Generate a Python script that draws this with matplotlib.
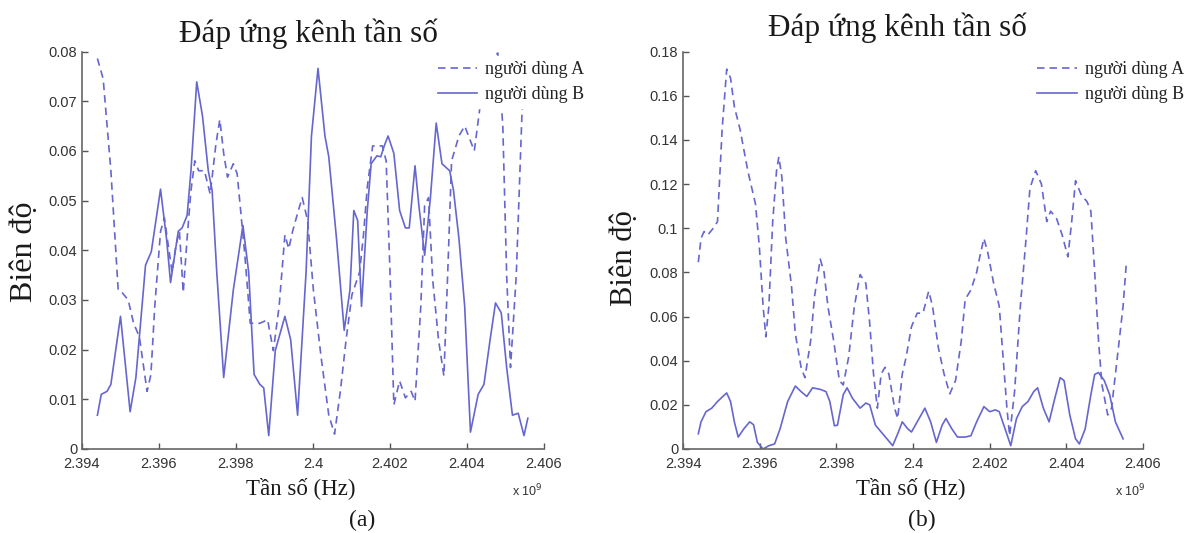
import matplotlib
matplotlib.use("Agg")
import matplotlib.pyplot as plt

# ---------------- data (frequency in units of 1e9 Hz) ----------------
freq_a_userA = [2.3944, 2.39455, 2.39475, 2.39494, 2.39504, 2.3952, 2.39534, 2.39549, 2.39569, 2.39579,
                2.39589, 2.39604, 2.39614, 2.39624, 2.39634, 2.39644, 2.39653, 2.39663, 2.39673, 2.39683,
                2.39693, 2.39703, 2.39718, 2.39733, 2.39748, 2.39758, 2.39768, 2.39778, 2.39793, 2.39803,
                2.39823, 2.39837, 2.39862, 2.39882, 2.39897, 2.39912, 2.39927, 2.39937, 2.39947, 2.39962,
                2.39972, 2.39986, 2.40001, 2.40021, 2.40041, 2.40056, 2.40071, 2.40086, 2.40101, 2.40121,
                2.40131, 2.40141, 2.40155, 2.4017, 2.4018, 2.4019, 2.402, 2.4021, 2.40225, 2.4024,
                2.40255, 2.40265, 2.4028, 2.4029, 2.403, 2.40311, 2.40326, 2.4034, 2.4035, 2.4036,
                2.40379, 2.40394, 2.40409, 2.40419, 2.40434, 2.4046, 2.4048, 2.40493, 2.40503, 2.40513,
                2.40528, 2.40543, 2.40555]
amp_a_userA = [0.0786, 0.0745, 0.056, 0.032, 0.0315, 0.030, 0.0253, 0.0226, 0.0116, 0.015,
               0.0287, 0.0438, 0.0465, 0.041, 0.0356, 0.041, 0.0438, 0.0315, 0.0424, 0.052,
               0.058, 0.056, 0.056, 0.0513, 0.0615, 0.0663, 0.0595, 0.0547, 0.0574, 0.0554,
               0.039, 0.0253, 0.0253, 0.026, 0.0198, 0.0287, 0.0431, 0.0403, 0.0438, 0.048,
               0.0506, 0.046, 0.032, 0.0185, 0.0068, 0.003, 0.0116, 0.022, 0.031, 0.0356,
               0.043, 0.0527, 0.061, 0.061, 0.061, 0.058, 0.0356, 0.0089, 0.0137, 0.0103,
               0.0116, 0.0096, 0.0287, 0.049, 0.0506, 0.034, 0.022, 0.0147, 0.0356, 0.058,
               0.063, 0.065, 0.062, 0.060, 0.069, 0.078, 0.0797, 0.065, 0.035, 0.0164,
               0.035, 0.068, 0.078]

freq_a_userB = [2.3944, 2.3945, 2.39465, 2.39475, 2.395, 2.39525, 2.3954, 2.39565, 2.3958, 2.39604,
                2.3962, 2.3963, 2.3965, 2.3966, 2.39673, 2.39683, 2.39698, 2.39713, 2.39728, 2.39738,
                2.3975, 2.39768, 2.39793, 2.39818, 2.39833, 2.39847, 2.39862, 2.39872, 2.39885, 2.39902,
                2.39927, 2.39942, 2.3996, 2.39982, 2.39996, 2.40013, 2.40031, 2.40041, 2.40061, 2.40081,
                2.40096, 2.40106, 2.40116, 2.40126, 2.40141, 2.40151, 2.40166, 2.40176, 2.40185, 2.40195,
                2.4021, 2.40225, 2.4024, 2.4025, 2.40265, 2.40275, 2.4029, 2.40305, 2.4032, 2.40335,
                2.40355, 2.40365, 2.40379, 2.40394, 2.40409, 2.40429, 2.40444, 2.4046, 2.40474, 2.40489,
                2.40503, 2.40518, 2.40533, 2.40548, 2.40558]
amp_a_userB = [0.0068, 0.011, 0.0116, 0.013, 0.0267, 0.0075, 0.0144, 0.037, 0.0397, 0.0523,
               0.042, 0.0335, 0.0438, 0.0445, 0.047, 0.056, 0.0739, 0.067, 0.056, 0.052,
               0.0356, 0.0144, 0.032, 0.045, 0.0355, 0.015, 0.013, 0.0123, 0.0027, 0.0198,
               0.0267, 0.022, 0.0068, 0.0356, 0.063, 0.0766, 0.063, 0.0588, 0.0424, 0.0239,
               0.032, 0.048, 0.046, 0.0287, 0.048, 0.0574, 0.059, 0.0588, 0.061, 0.063,
               0.0595, 0.048, 0.0445, 0.0445, 0.057, 0.049, 0.039, 0.0506, 0.0656, 0.0574,
               0.056, 0.052, 0.0424, 0.0287, 0.0034, 0.011, 0.013, 0.022, 0.0294, 0.0274,
               0.0164, 0.0068, 0.0072, 0.0027, 0.0062]

freq_b_userA = [2.3944, 2.39447, 2.39455, 2.39465, 2.39479, 2.3949, 2.39502, 2.39514, 2.39524, 2.39534,
                2.39549, 2.39569, 2.39589, 2.39599, 2.39609, 2.39616, 2.39624, 2.39634, 2.39644, 2.3965,
                2.39658, 2.39668, 2.39683, 2.39693, 2.39708, 2.39718, 2.39733, 2.39743, 2.39758, 2.39768,
                2.39778, 2.39793, 2.39808, 2.39818, 2.39832, 2.39847, 2.39862, 2.39877, 2.39887, 2.39897,
                2.39907, 2.39917, 2.39927, 2.39937, 2.39952, 2.3996, 2.39972, 2.39982, 2.39996, 2.40011,
                2.40026, 2.40041, 2.40051, 2.40066, 2.40081, 2.40096, 2.40111, 2.40126, 2.40136, 2.40151,
                2.40166, 2.40175, 2.40185, 2.40195, 2.4021, 2.40225, 2.40235, 2.40245, 2.40252, 2.40265,
                2.4028, 2.40295, 2.40305, 2.4032, 2.40335, 2.40349, 2.40359, 2.40374, 2.40389, 2.40404,
                2.40414, 2.40424, 2.40439, 2.40454, 2.40464, 2.40474, 2.40484, 2.40493, 2.40508, 2.40518,
                2.40533, 2.40548, 2.40556]
amp_b_userA = [0.0846, 0.0954, 0.0985, 0.097, 0.100, 0.103, 0.1446, 0.172, 0.168, 0.155,
               0.1446, 0.126, 0.111, 0.092, 0.0646, 0.0508, 0.0646, 0.103, 0.126, 0.1323,
               0.123, 0.0954, 0.0738, 0.0523, 0.037, 0.0323, 0.049, 0.069, 0.086, 0.080,
               0.0646, 0.049, 0.031, 0.029, 0.0415, 0.0646, 0.079, 0.075, 0.057, 0.034,
               0.0185, 0.034, 0.037, 0.034, 0.0185, 0.0138, 0.034, 0.0415, 0.0554, 0.0615,
               0.0615, 0.0715, 0.0646, 0.046, 0.034, 0.025, 0.031, 0.049, 0.0677, 0.072,
               0.080, 0.0877, 0.0954, 0.089, 0.0754, 0.0646, 0.0415, 0.0185, 0.006, 0.026,
               0.0646, 0.0954, 0.118, 0.126, 0.12, 0.103, 0.1077, 0.1046, 0.097, 0.087,
               0.103, 0.1215, 0.115, 0.112, 0.1077, 0.080, 0.049, 0.029, 0.0154, 0.0185,
               0.0415, 0.0646, 0.083]

freq_b_userB = [2.3944, 2.39447, 2.3946, 2.39475, 2.3949, 2.39504, 2.39514, 2.39524, 2.39534, 2.39544,
                2.39559, 2.39574, 2.39584, 2.39594, 2.39609, 2.39624, 2.39639, 2.39653, 2.39673, 2.39693,
                2.39708, 2.39723, 2.39738, 2.39758, 2.39773, 2.39783, 2.39795, 2.39803, 2.39818, 2.39828,
                2.39842, 2.39862, 2.39877, 2.39887, 2.39902, 2.39917, 2.39932, 2.39947, 2.39962, 2.39972,
                2.39986, 2.39996, 2.40011, 2.40031, 2.40046, 2.40061, 2.40076, 2.40086, 2.40101, 2.40116,
                2.40136, 2.40151, 2.40166, 2.40185, 2.402, 2.40215, 2.40225, 2.4024, 2.40255, 2.4027,
                2.40285, 2.403, 2.40315, 2.40325, 2.4034, 2.40355, 2.4037, 2.40384, 2.40394, 2.40409,
                2.40424, 2.40434, 2.40449, 2.40464, 2.40474, 2.40484, 2.40499, 2.40513, 2.40528, 2.40548]
amp_b_userB = [0.0069, 0.0123, 0.0169, 0.0185, 0.0215, 0.0238, 0.0254, 0.0215, 0.0123, 0.0054,
               0.0092, 0.0123, 0.011, 0.003, 0.0, 0.0015, 0.0023, 0.009, 0.0215, 0.0285,
               0.026, 0.0238, 0.0277, 0.027, 0.026, 0.0215, 0.0105, 0.0108, 0.0246, 0.0277,
               0.023, 0.0185, 0.0208, 0.020, 0.0108, 0.0077, 0.0046, 0.0015, 0.0077, 0.0123,
               0.0092, 0.0077, 0.0123, 0.0185, 0.0123, 0.003, 0.0108, 0.0138, 0.0092, 0.0054,
               0.0054, 0.006, 0.0123, 0.0192, 0.0169, 0.0177, 0.0169, 0.0092, 0.0015, 0.0138,
               0.0192, 0.0215, 0.026, 0.0277, 0.0185, 0.0123, 0.023, 0.0323, 0.031, 0.0154,
               0.0046, 0.0023, 0.009, 0.0246, 0.0338, 0.0346, 0.031, 0.0246, 0.0123, 0.0046]

x_ticks = [2.394, 2.396, 2.398, 2.4, 2.402, 2.404, 2.406]
x_tick_labels = ["2.394", "2.396", "2.398", "2.4", "2.402", "2.404", "2.406"]
y_ticks_a = [0, 0.01, 0.02, 0.03, 0.04, 0.05, 0.06, 0.07, 0.08]
y_tick_labels_a = ["0", "0.01", "0.02", "0.03", "0.04", "0.05", "0.06", "0.07", "0.08"]
y_ticks_b = [0, 0.02, 0.04, 0.06, 0.08, 0.10, 0.12, 0.14, 0.16, 0.18]
y_tick_labels_b = ["0", "0.02", "0.04", "0.06", "0.08", "0.1", "0.12", "0.14", "0.16", "0.18"]

title_text = "Đáp ứng kênh tần số"
ylabel_text = "Biên độ"
xlabel_text = "Tần số (Hz)"
legend_labels = ["người dùng A", "người dùng B"]
panel_labels = ["(a)", "(b)"]

# ---------------- figure ----------------
W, H = 1199, 533
fig = plt.figure(figsize=(W / 100, H / 100), dpi=100)
fig.patch.set_facecolor("white")

LINE_COLOR = "#6666cf"
SERIF = ["Liberation Serif", "DejaVu Serif"]
SANS = ["Liberation Sans", "DejaVu Sans"]
TXT = "#1a1a1a"

AX_TOP, AX_BOTTOM = 51.5, 449


def px_x(p):
    return p / W


def px_y(p):
    return 1 - p / H


panels = [
    dict(left=82, right=544, fa=freq_a_userA, va=amp_a_userA, fb=freq_a_userB, vb=amp_a_userB,
         yt=y_ticks_a, ytl=y_tick_labels_a, ymax=0.08, leg_x=0.758,
         title=(308, 42), ylab=(25, 252, 23), xlab=(301, 488), panel=(362, 520), exp=(527, 491)),
    dict(left=683, right=1143, fa=freq_b_userA, va=amp_b_userA, fb=freq_b_userB, vb=amp_b_userB,
         yt=y_ticks_b, ytl=y_tick_labels_b, ymax=0.18, leg_x=0.758,
         title=(897, 36), ylab=(624, 258, 22), xlab=(911, 488), panel=(922, 520), exp=(1130, 491)),
]

for i, p in enumerate(panels):
    ax = fig.add_axes([px_x(p["left"]), px_y(AX_BOTTOM),
                       (p["right"] - p["left"]) / W, (AX_BOTTOM - AX_TOP) / H])
    ax.set_facecolor("none")
    la, = ax.plot(p["fa"], p["va"], color=LINE_COLOR, lw=1.2, linestyle=(0, (4.5, 3)))
    lb, = ax.plot(p["fb"], p["vb"], color=LINE_COLOR, lw=1.2, linestyle="-")
    ax.set_xlim(2.394, 2.406)
    ax.set_ylim(0, p["ymax"])
    ax.set_xticks(x_ticks)
    ax.set_xticklabels(x_tick_labels, fontfamily=SANS, fontsize=10.5, color="#333333")
    ax.set_yticks(p["yt"])
    ax.set_yticklabels(p["ytl"], fontfamily=SANS, fontsize=10.5, color="#333333")
    ax.tick_params(axis="x", direction="in", length=4, width=1, color="#555555", pad=5.5)
    ax.tick_params(axis="y", direction="in", length=4, width=1, color="#555555", pad=3.5)
    for s in ["top", "right"]:
        ax.spines[s].set_visible(False)
    for s in ["left", "bottom"]:
        ax.spines[s].set_color("#666666")
        ax.spines[s].set_linewidth(1.2)

    leg = ax.legend([la, lb], legend_labels, loc="upper left", bbox_to_anchor=(p["leg_x"], 0.989),
                    borderaxespad=0, frameon=True, fancybox=False, framealpha=1,
                    prop={"family": SERIF, "size": 13}, handlelength=2.2, handletextpad=0.45,
                    labelspacing=0.42, borderpad=0.3)
    leg.get_frame().set_edgecolor("white")
    leg.get_frame().set_facecolor("white")
    for t in leg.get_texts():
        t.set_color("#222222")

    fig.text(px_x(p["title"][0]), px_y(p["title"][1]), title_text, family=SERIF, fontsize=22.5,
             ha="center", va="baseline", color=TXT)
    fig.text(px_x(p["ylab"][0]), px_y(p["ylab"][1]), ylabel_text, family=SERIF, fontsize=p["ylab"][2],
             ha="center", va="center", rotation=90, color=TXT)
    fig.text(px_x(p["xlab"][0]), px_y(p["xlab"][1]), xlabel_text, family=SERIF, fontsize=16.5,
             ha="center", va="center", color=TXT)
    fig.text(px_x(p["panel"][0]), px_y(p["panel"][1]), panel_labels[i], family=SERIF, fontsize=17,
             ha="center", va="center", color=TXT)
    fig.text(px_x(p["exp"][0]), px_y(p["exp"][1]), r"x 10$^{9}$", family=SANS, fontsize=9,
             ha="center", va="center", color="#333333")

fig.savefig("out.png", dpi=100, facecolor="white")
